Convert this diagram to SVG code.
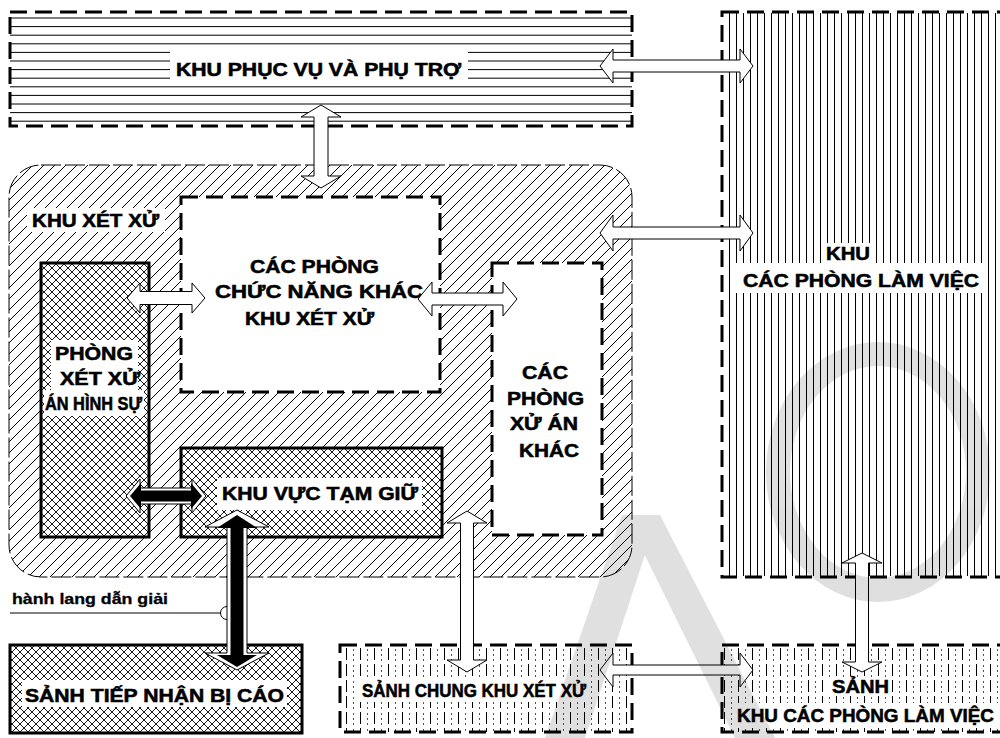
<svg xmlns="http://www.w3.org/2000/svg" width="1000" height="738" viewBox="0 0 1000 738">
<style>
.t{font-family:"Liberation Sans",Arial,sans-serif;font-weight:bold;font-size:18.5px;fill:#000;stroke:#000;stroke-width:0.55}
.ts{font-family:"Liberation Sans",Arial,sans-serif;font-weight:bold;font-size:15px;fill:#000;stroke:#000;stroke-width:0.3}
.db{fill:none;stroke:#000;stroke-width:3;stroke-dasharray:17 8}
.sb{stroke:#000;stroke-width:3}
.hl{stroke:#000;stroke-width:1}
.ha{fill:#fff;stroke:#000;stroke-width:1;stroke-linejoin:miter}
.ba{fill:#000;stroke:none}
</style>
<defs>
<pattern id="hatch" patternUnits="userSpaceOnUse" width="11" height="11">
<path d="M-1,12 L12,-1" stroke="#000" stroke-width="1"/>
</pattern>
<pattern id="cross" patternUnits="userSpaceOnUse" width="8" height="8">
<rect width="8" height="8" fill="#fff"/>
<path d="M0,0 L8,8 M0,8 L8,0" stroke="#000" stroke-width="0.9"/>
</pattern>
<pattern id="vstripe" patternUnits="userSpaceOnUse" x="729" y="0" width="7" height="20">
<line x1="0.5" y1="0" x2="0.5" y2="20" stroke="#000" stroke-width="1"/>
</pattern>
<pattern id="vdash" patternUnits="userSpaceOnUse" x="346" y="648" width="14" height="16">
<rect x="0" y="0" width="1" height="12" fill="#000"/>
<rect x="7" y="1" width="1" height="2" fill="#555"/>
<rect x="7" y="6" width="1" height="2" fill="#555"/>
<rect x="7" y="11" width="1" height="2" fill="#555"/>
</pattern>
</defs>

<g id="khu-phuc-vu">
<rect x="10" y="12" width="622" height="114" fill="#fff"/>
<g class="hl">
<line x1="10" y1="18" x2="632" y2="18"/>
<line x1="10" y1="26.6" x2="632" y2="26.6"/>
<line x1="10" y1="35.2" x2="632" y2="35.2"/>
<line x1="10" y1="43.8" x2="632" y2="43.8"/>
<line x1="10" y1="52.4" x2="632" y2="52.4"/>
<line x1="10" y1="61" x2="632" y2="61"/>
<line x1="10" y1="69.6" x2="632" y2="69.6"/>
<line x1="10" y1="78.2" x2="632" y2="78.2"/>
<line x1="10" y1="86.8" x2="632" y2="86.8"/>
<line x1="10" y1="95.4" x2="632" y2="95.4"/>
<line x1="10" y1="104" x2="632" y2="104"/>
<line x1="10" y1="112.6" x2="632" y2="112.6"/>
<line x1="10" y1="121.2" x2="632" y2="121.2"/>
</g>
<rect x="170" y="47" width="298" height="35" fill="#fff"/>
<rect class="db" x="10" y="12" width="622" height="114"/>
<text class="t" x="176" y="76" textLength="285" lengthAdjust="spacingAndGlyphs">KHU PHỤC VỤ VÀ PHỤ TRỢ</text>
</g>

<g id="khu-cac-phong-lam-viec">
<rect x="723" y="13" width="285" height="563" fill="url(#vstripe)"/>
<rect x="822" y="243" width="52" height="21" fill="#fff"/>
<rect x="735" y="263" width="250" height="30" fill="#fff"/>
<rect class="db" x="722" y="12" width="300" height="565"/>
<text class="t" x="826" y="260" textLength="44" lengthAdjust="spacingAndGlyphs">KHU</text>
<text class="t" x="743" y="287" textLength="236" lengthAdjust="spacingAndGlyphs">CÁC PHÒNG LÀM VIỆC</text>
</g>

<g id="khu-xet-xu">
<rect x="9" y="165" width="623" height="412" rx="32" ry="32" fill="#fff"/>
<rect x="9" y="165" width="623" height="412" rx="32" ry="32" fill="url(#hatch)"/>
<rect x="9" y="165" width="623" height="412" rx="32" ry="32" fill="none" stroke="#000" stroke-width="1" stroke-dasharray="20 4"/>
<rect x="27" y="208" width="138" height="24" fill="#fff"/>
<text class="t" x="32" y="227" textLength="127" lengthAdjust="spacingAndGlyphs">KHU XÉT XỬ</text>
</g>

<g id="cac-phong-chuc-nang">
<rect x="181" y="197" width="259" height="195" fill="#fff"/>
<rect class="db" x="181" y="197" width="259" height="195"/>
<text class="t" x="250" y="273" textLength="129" lengthAdjust="spacingAndGlyphs">CÁC PHÒNG</text>
<text class="t" x="215" y="298" textLength="208" lengthAdjust="spacingAndGlyphs">CHỨC NĂNG KHÁC</text>
<text class="t" x="245" y="325" textLength="129" lengthAdjust="spacingAndGlyphs">KHU XÉT XỬ</text>
</g>

<g id="cac-phong-xu-an-khac">
<rect x="492" y="263" width="110" height="272" fill="#fff"/>
<rect class="db" x="492" y="263" width="110" height="272"/>
<text class="t" x="522" y="379" textLength="46" lengthAdjust="spacingAndGlyphs">CÁC</text>
<text class="t" x="507" y="405" textLength="77" lengthAdjust="spacingAndGlyphs">PHÒNG</text>
<text class="t" x="510" y="430" textLength="68" lengthAdjust="spacingAndGlyphs">XỬ ÁN</text>
<text class="t" x="519" y="457" textLength="60" lengthAdjust="spacingAndGlyphs">KHÁC</text>
</g>

<g id="phong-xet-xu-hinh-su">
<rect class="sb" x="41" y="263" width="108" height="274" fill="url(#cross)"/>
<rect x="51" y="340" width="87" height="50" fill="#fff"/>
<rect x="44" y="390" width="100" height="26" fill="#fff"/>
<text class="t" x="55" y="360" textLength="78" lengthAdjust="spacingAndGlyphs">PHÒNG</text>
<text class="t" x="60" y="385" textLength="80" lengthAdjust="spacingAndGlyphs">XÉT XỬ</text>
<text class="t" x="45" y="410" textLength="97" lengthAdjust="spacingAndGlyphs">ÁN HÌNH SỰ</text>
</g>

<g id="khu-vuc-tam-giu">
<rect class="sb" x="181" y="448" width="261" height="89" fill="url(#cross)"/>
<rect x="217" y="478" width="205" height="32" fill="#fff"/>
<text class="t" x="222" y="500" textLength="196" lengthAdjust="spacingAndGlyphs">KHU VỰC TẠM GIỮ</text>
</g>

<g id="sanh-tiep-nhan-bi-cao">
<rect class="sb" x="10" y="645" width="292" height="88" fill="url(#cross)"/>
<rect x="22" y="680" width="265" height="27" fill="#fff"/>
<text class="t" x="25" y="702" textLength="259" lengthAdjust="spacingAndGlyphs">SẢNH TIẾP NHẬN BỊ CÁO</text>
</g>

<g id="sanh-chung-khu-xet-xu">
<rect x="340" y="645" width="292" height="87" fill="url(#vdash)"/>
<rect x="358" y="677" width="231" height="25" fill="#fff"/>
<rect class="db" x="340" y="645" width="292" height="87"/>
<text class="t" x="362" y="697" textLength="224" lengthAdjust="spacingAndGlyphs">SẢNH CHUNG KHU XÉT XỬ</text>
</g>

<g id="sanh-khu-cac-phong-lam-viec">
<rect x="722" y="645" width="290" height="87" fill="url(#vdash)"/>
<rect x="829" y="677" width="62" height="19" fill="#fff"/>
<rect x="733" y="703" width="265" height="25" fill="#fff"/>
<rect class="db" x="722" y="645" width="300" height="87"/>
<text class="t" x="832" y="693" textLength="57" lengthAdjust="spacingAndGlyphs">SẢNH</text>
<text class="t" x="737" y="722" textLength="257" lengthAdjust="spacingAndGlyphs">KHU CÁC PHÒNG LÀM VIỆC</text>
</g>

<g id="connectors">
<path class="ha" d="M600,66 L613,49 L613,60 L740,60 L740,49 L753,66 L740,83 L740,72 L613,72 L613,83 Z"/>
<path class="ha" d="M600,233 L613,215 L613,227 L740,227 L740,215 L753,233 L740,251 L740,239 L613,239 L613,251 Z"/>
<path class="ha" d="M127,298 L140,283 L140,291.5 L192,291.5 L192,283 L205,298 L192,313 L192,304.5 L140,304.5 L140,313 Z"/>
<path class="ha" d="M418,299 L432,282 L432,293 L503,293 L503,282 L517,299 L503,316 L503,305 L432,305 L432,316 Z"/>
<path class="ha" d="M321,105 L341,117 L328,117 L328,176 L341,176 L321,188 L301,176 L314,176 L314,117 L301,117 Z"/>
<path class="ha" d="M467,511 L487,523 L473.5,523 L473.5,660 L487,660 L467,672 L447,660 L460.5,660 L460.5,523 L447,523 Z"/>
<path class="ha" d="M600,670 L613,653 L613,665 L740,665 L740,653 L753,670 L740,687 L740,675 L613,675 L613,687 Z"/>
<path class="ha" d="M862,553 L882,563 L868.5,563 L868.5,662 L882,662 L862,672 L842,662 L855.5,662 L855.5,563 L842,563 Z"/>
<path class="ha" d="M126,496 L140,479 L140,488 L192,488 L192,479 L206,496 L192,513 L192,504 L140,504 L140,513 Z"/>
<path class="ba" d="M130,496 L141,483 L141,490.5 L191,490.5 L191,483 L202,496 L191,509 L191,501.5 L141,501.5 L141,509 Z"/>
<path class="ha" d="M237,510 L269,527 L247,527 L247,653 L269,653 L237,670 L205,653 L227,653 L227,527 L205,527 Z"/>
<path class="ba" d="M237,515 L257,528 L243.5,528 L243.5,655 L257,655 L237,667 L217,655 L230.5,655 L230.5,528 L217,528 Z"/>
</g>

<g id="hanh-lang-dan-giai">
<text class="ts" x="12" y="604" textLength="156" lengthAdjust="spacingAndGlyphs">hành lang dẫn giải</text>
<path d="M10,613 L221,613" stroke="#000" stroke-width="1" fill="none"/>
<path d="M227,606.5 A6.5,6.5 0 0 0 227,619.5" stroke="#000" stroke-width="1" fill="none"/>
</g>

<g id="watermark" opacity="0.12">
<ellipse cx="878" cy="472" rx="100" ry="118" fill="none" stroke="#000" stroke-width="24"/>
<path d="M622,515 L658,515 L585,738 L545,738 Z M625,515 L660,515 L775,738 L735,738 Z" fill="#000" fill-rule="nonzero"/>
</g>
</svg>
